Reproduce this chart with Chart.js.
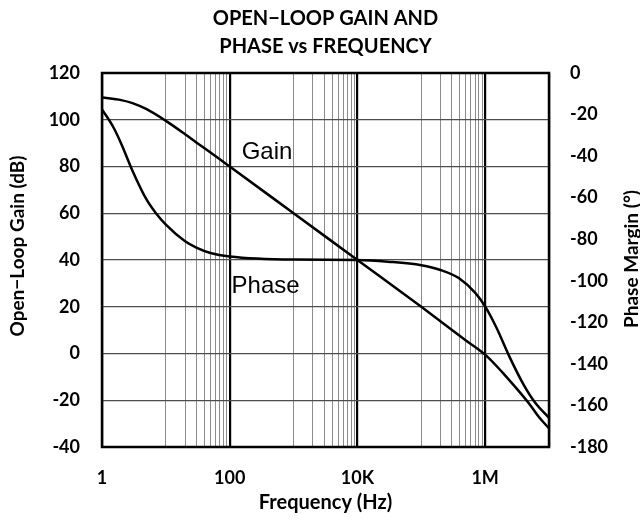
<!DOCTYPE html>
<html>
<head>
<meta charset="utf-8">
<script src="https://cdn.jsdelivr.net/npm/chart.js@4.4.1/dist/chart.umd.min.js"></script>
<style>
    html, body { margin: 0; padding: 0; background: #fff; }
    #wrap { width: 640px; height: 520px; position: relative; }
</style>
</head>
<body>
<div id="wrap"><canvas id="bodeChart"></canvas></div>
<script>
// Open-loop gain / phase vs frequency

// --- Data ---
const gainFreq = [1, 2, 3, 5, 10, 20, 30, 50, 70, 100, 1000, 10000, 100000, 500000, 1000000, 2000000, 3000000, 5000000, 7000000, 10000000];
const gainDb = [109.5, 108.4, 107.1, 104.5, 99.5, 93.8, 90.3, 86.0, 83.1, 80.0, 60.0, 40.0, 20.0, 5.6, -0.5, -9.0, -14.5, -21.8, -27.3, -32.0];

const phaseFreq = [1, 1.5, 2, 3, 5, 7, 10, 20, 30, 50, 100, 1000, 10000, 30000, 100000, 200000, 400000, 700000, 1000000, 1500000, 2400000, 4000000, 6000000, 10000000];
const phaseDeg = [-17.5, -26, -34, -47, -61, -67.5, -73, -81, -84, -86.6, -88.3, -89.8, -90, -90.8, -92.5, -94.8, -99, -105.8, -112.3, -122.5, -136.5, -150, -158.5, -166];

// x grid: majors carry labels, minors are plain lines
const xMajorTicks = [1, 100, 10000, 1000000];
const xMajorLabels = ['1', '100', '10K', '1M'];
const xMinorTicks = [
    10, 20, 30, 40, 50, 60, 70, 80, 90,
    1000, 2000, 3000, 4000, 5000, 6000, 7000, 8000, 9000,
    100000, 200000, 300000, 400000, 500000, 600000, 700000, 800000, 900000
];

const gainTicks = [-40, -20, 0, 20, 40, 60, 80, 100, 120];
const phaseTicks = [-180, -160, -140, -120, -100, -80, -60, -40, -20, 0];

// in-plot curve labels: [freq, gain-axis value]
const gainLabelAt = [154, 83.2];
const phaseLabelAt = [107, 25.9];

const titleLines = ['OPEN\u2212LOOP GAIN AND', 'PHASE vs FREQUENCY'];

// --- Helpers ---
const FONT = 'Lato, "Open Sans", sans-serif';
const toPoints = (xs, ys) => xs.map((x, i) => ({ x: x, y: ys[i] }));
const isMajor = (v) => xMajorTicks.includes(v) || v === 10000000;

const framePlugin = {
    id: 'frame',
    afterDatasetsDraw(chart) {
        const { ctx, chartArea: a, scales } = chart;
        ctx.save();
        ctx.strokeStyle = '#000';
        ctx.lineWidth = 2.5;
        ctx.strokeRect(a.left, a.top, a.right - a.left, a.bottom - a.top);

        // curve labels
        ctx.fillStyle = '#000';
        ctx.font = '24px "Liberation Sans", Arial, sans-serif';
        ctx.textAlign = 'left';
        ctx.textBaseline = 'alphabetic';
        ctx.fillText('Gain', scales.x.getPixelForValue(gainLabelAt[0]), scales.y.getPixelForValue(gainLabelAt[1]));
        ctx.fillText('Phase', scales.x.getPixelForValue(phaseLabelAt[0]), scales.y.getPixelForValue(phaseLabelAt[1]));
        ctx.restore();
    },
    afterDraw(chart) {
        const { ctx, chartArea: a } = chart;
        const cx = (a.left + a.right) / 2;
        ctx.save();
        ctx.fillStyle = '#000';
        ctx.textAlign = 'center';
        ctx.textBaseline = 'middle';

        ctx.font = 'bold 20px ' + FONT;
        ctx.fillText(titleLines[0], cx, 19);
        ctx.fillText(titleLines[1], cx, 47);

        ctx.font = 'bold 20px ' + FONT;
        ctx.fillText('Frequency (Hz)', cx, 503);

        ctx.font = 'bold 19px ' + FONT;
        ctx.translate(18, 246);
        ctx.rotate(-Math.PI / 2);
        ctx.fillText('Open\u2212Loop Gain (dB)', 0, 0);
        ctx.restore();

        ctx.save();
        ctx.fillStyle = '#000';
        ctx.textAlign = 'center';
        ctx.textBaseline = 'middle';
        ctx.font = 'bold 19px ' + FONT;
        ctx.translate(632, 259);
        ctx.rotate(-Math.PI / 2);
        ctx.fillText('Phase Margin (\u00b0)', 0, 0);
        ctx.restore();
    }
};

const ctx = document.getElementById('bodeChart');

new Chart(ctx, {
    type: 'line',
    data: {
        datasets: [
            {
                label: 'Gain',
                data: toPoints(gainFreq, gainDb),
                yAxisID: 'y',
                borderColor: '#000',
                borderWidth: 2.5,
                pointRadius: 0,
                cubicInterpolationMode: 'monotone'
            },
            {
                label: 'Phase',
                data: toPoints(phaseFreq, phaseDeg),
                yAxisID: 'y2',
                borderColor: '#000',
                borderWidth: 2.5,
                pointRadius: 0,
                cubicInterpolationMode: 'monotone'
            }
        ]
    },
    options: {
        responsive: true,
        maintainAspectRatio: false,
        animation: false,
        layout: { padding: { top: 73, left: 0, right: 0, bottom: 0 } },
        plugins: {
            legend: { display: false },
            tooltip: { enabled: false }
        },
        scales: {
            x: {
                type: 'logarithmic',
                min: 1,
                max: 10000000,
                afterBuildTicks: (scale) => {
                    const vals = [...xMajorTicks, ...xMinorTicks, 10000000].sort((a, b) => a - b);
                    scale.ticks = vals.map(v => ({ value: v }));
                },
                afterFit: (scale) => { scale.height = 73; },
                border: { display: false },
                grid: {
                    drawTicks: false,
                    color: (c) => (c.tick && isMajor(c.tick.value)) ? '#000' : '#8c8c8c',
                    lineWidth: (c) => (c.tick && isMajor(c.tick.value)) ? 2.2 : 1
                },
                ticks: {
                    autoSkip: false,
                    maxRotation: 0,
                    padding: 20,
                    color: '#000',
                    font: { family: FONT, size: 18, weight: 'bold' },
                    callback: (value) => {
                        const i = xMajorTicks.indexOf(value);
                        return i >= 0 ? xMajorLabels[i] : '';
                    }
                }
            },
            y: {
                position: 'left',
                min: -40,
                max: 120,
                afterBuildTicks: (scale) => { scale.ticks = gainTicks.map(v => ({ value: v })); },
                afterFit: (scale) => { scale.width = 102; },
                border: { display: false },
                grid: { drawTicks: false, color: '#4d4d4d', lineWidth: 1.2 },
                ticks: {
                    padding: 22,
                    color: '#000',
                    font: { family: FONT, size: 18, weight: 'bold' }
                }
            },
            y2: {
                position: 'right',
                min: -180,
                max: 0,
                afterBuildTicks: (scale) => { scale.ticks = phaseTicks.map(v => ({ value: v })); },
                afterFit: (scale) => { scale.width = 91; },
                border: { display: false },
                grid: { drawOnChartArea: false, drawTicks: false },
                ticks: {
                    padding: 21,
                    color: '#000',
                    font: { family: FONT, size: 18, weight: 'bold' }
                }
            }
        }
    },
    plugins: [framePlugin]
});
</script>
</body>
</html>
